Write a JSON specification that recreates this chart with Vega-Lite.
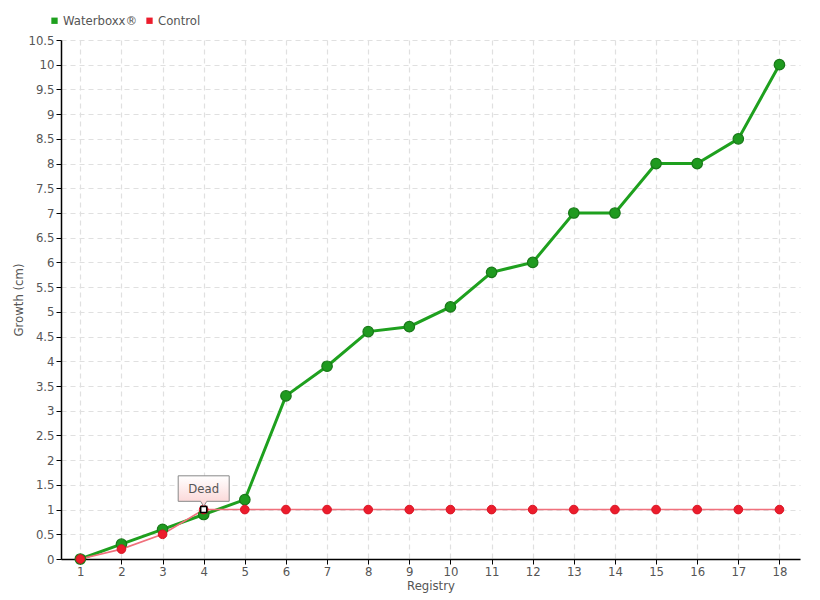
{
  "$schema": "https://vega.github.io/schema/vega-lite/v6.json",
  "width": 739,
  "height": 519,
  "autosize": {"type": "none"},
  "padding": {"left": 61, "top": 40, "right": 20, "bottom": 41},
  "config": {
    "font": "DejaVu Sans Condensed, DejaVu Sans, sans-serif",
    "view": {"stroke": null},
    "axis": {"labelColor": "#555", "titleColor": "#555", "labelFontSize": 13, "titleFontSize": 13, "titleFontWeight": "normal", "domainColor": "#000", "domainWidth": 1.5, "tickColor": "#000", "gridColor": "#e0e0e0", "gridDash": [5, 4], "gridWidth": 1.2}
  },
  "datasets": {
    "growth": [
      {"reg": 1, "series": "Waterboxx®", "value": 0},
      {"reg": 2, "series": "Waterboxx®", "value": 0.3},
      {"reg": 3, "series": "Waterboxx®", "value": 0.6},
      {"reg": 4, "series": "Waterboxx®", "value": 0.9},
      {"reg": 5, "series": "Waterboxx®", "value": 1.2},
      {"reg": 6, "series": "Waterboxx®", "value": 3.3},
      {"reg": 7, "series": "Waterboxx®", "value": 3.9},
      {"reg": 8, "series": "Waterboxx®", "value": 4.6},
      {"reg": 9, "series": "Waterboxx®", "value": 4.7},
      {"reg": 10, "series": "Waterboxx®", "value": 5.1},
      {"reg": 11, "series": "Waterboxx®", "value": 5.8},
      {"reg": 12, "series": "Waterboxx®", "value": 6.0},
      {"reg": 13, "series": "Waterboxx®", "value": 7.0},
      {"reg": 14, "series": "Waterboxx®", "value": 7.0},
      {"reg": 15, "series": "Waterboxx®", "value": 8.0},
      {"reg": 16, "series": "Waterboxx®", "value": 8.0},
      {"reg": 17, "series": "Waterboxx®", "value": 8.5},
      {"reg": 18, "series": "Waterboxx®", "value": 10.0},
      {"reg": 1, "series": "Control", "value": 0},
      {"reg": 2, "series": "Control", "value": 0.2},
      {"reg": 3, "series": "Control", "value": 0.5},
      {"reg": 4, "series": "Control", "value": 1},
      {"reg": 5, "series": "Control", "value": 1},
      {"reg": 6, "series": "Control", "value": 1},
      {"reg": 7, "series": "Control", "value": 1},
      {"reg": 8, "series": "Control", "value": 1},
      {"reg": 9, "series": "Control", "value": 1},
      {"reg": 10, "series": "Control", "value": 1},
      {"reg": 11, "series": "Control", "value": 1},
      {"reg": 12, "series": "Control", "value": 1},
      {"reg": 13, "series": "Control", "value": 1},
      {"reg": 14, "series": "Control", "value": 1},
      {"reg": 15, "series": "Control", "value": 1},
      {"reg": 16, "series": "Control", "value": 1},
      {"reg": 17, "series": "Control", "value": 1},
      {"reg": 18, "series": "Control", "value": 1}
    ],
    "notes": [
      {"reg": 4, "value": 1, "label": "Dead"}
    ]
  },
  "encoding": {
    "x": {
      "field": "reg", "type": "quantitative",
      "scale": {"domain": [0.53, 18.5], "nice": false, "zero": false},
      "axis": {"title": "Registry", "values": [1,2,3,4,5,6,7,8,9,10,11,12,13,14,15,16,17,18], "format": "d", "tickSize": 5, "labelPadding": 1, "titlePadding": 1, "grid": true}
    },
    "y": {
      "field": "value", "type": "quantitative",
      "scale": {"domain": [0, 10.5], "nice": false},
      "axis": {"title": "Growth (cm)", "values": [0,0.5,1,1.5,2,2.5,3,3.5,4,4.5,5,5.5,6,6.5,7,7.5,8,8.5,9,9.5,10,10.5], "format": "~g", "tickSize": 5, "labelPadding": 2, "titlePadding": 2, "grid": true}
    }
  },
  "layer": [
    {
      "data": {"name": "growth"},
      "transform": [{"filter": "datum.series === 'Waterboxx®'"}],
      "mark": {"type": "line", "color": "#1ea01e", "strokeWidth": 3},
      "encoding": {}
    },
    {
      "data": {"name": "growth"},
      "transform": [{"filter": "datum.series === 'Control'"}],
      "mark": {"type": "line", "color": "#f0707c", "strokeWidth": 1.6},
      "encoding": {}
    },
    {
      "data": {"name": "growth"},
      "transform": [{"filter": "datum.series === 'Waterboxx®'"}],
      "mark": {"type": "point", "filled": true, "size": 110, "fill": "#1f9a1f", "stroke": "#187818", "strokeWidth": 1.2, "opacity": 1},
      "encoding": {}
    },
    {
      "data": {"name": "growth"},
      "transform": [{"filter": "datum.series === 'Control'"}],
      "mark": {"type": "point", "filled": true, "size": 75, "fill": "#ec1c2c", "stroke": "#d81424", "strokeWidth": 1, "opacity": 1},
      "encoding": {}
    },
    {
      "data": {"name": "growth"},
      "mark": {"type": "point", "filled": true, "shape": "square", "size": 1, "opacity": 0},
      "encoding": {
        "color": {
          "field": "series", "type": "nominal",
          "scale": {"domain": ["Waterboxx®", "Control"], "range": ["#1ea01e", "#ec1c2c"]},
          "legend": {"title": null, "orient": "none", "direction": "horizontal", "legendX": -13, "legendY": -26, "symbolType": "square", "symbolSize": 40, "symbolOpacity": 1, "labelFontSize": 13, "labelColor": "#555", "columnPadding": 5, "symbolOffset": 0, "labelOffset": 2}
        }
      }
    },
    {
      "data": {"name": "notes"},
      "mark": {"type": "point", "shape": "M-1,-0.5L1,-0.5L1,0.5L0.12,0.5L0,0.7L-0.12,0.5L-1,0.5Z", "size": 2601, "yOffset": -21, "filled": true, "opacity": 1, "stroke": "#888", "strokeWidth": 1,
        "fill": {"gradient": "linear", "x1": 0, "y1": 0, "x2": 0, "y2": 1, "stops": [{"offset": 0, "color": "#ffffff"}, {"offset": 1, "color": "#fbd2d2"}]}},
      "encoding": {}
    },
    {
      "data": {"name": "notes"},
      "mark": {"type": "text", "dy": -21, "fontSize": 13, "color": "#555", "baseline": "middle"},
      "encoding": {"text": {"field": "label"}}
    },
    {
      "data": {"name": "notes"},
      "mark": {"type": "point", "shape": "square", "size": 36, "filled": true, "fill": "#ffffff", "stroke": "#000", "strokeWidth": 1.5, "opacity": 1},
      "encoding": {}
    }
  ]
}
